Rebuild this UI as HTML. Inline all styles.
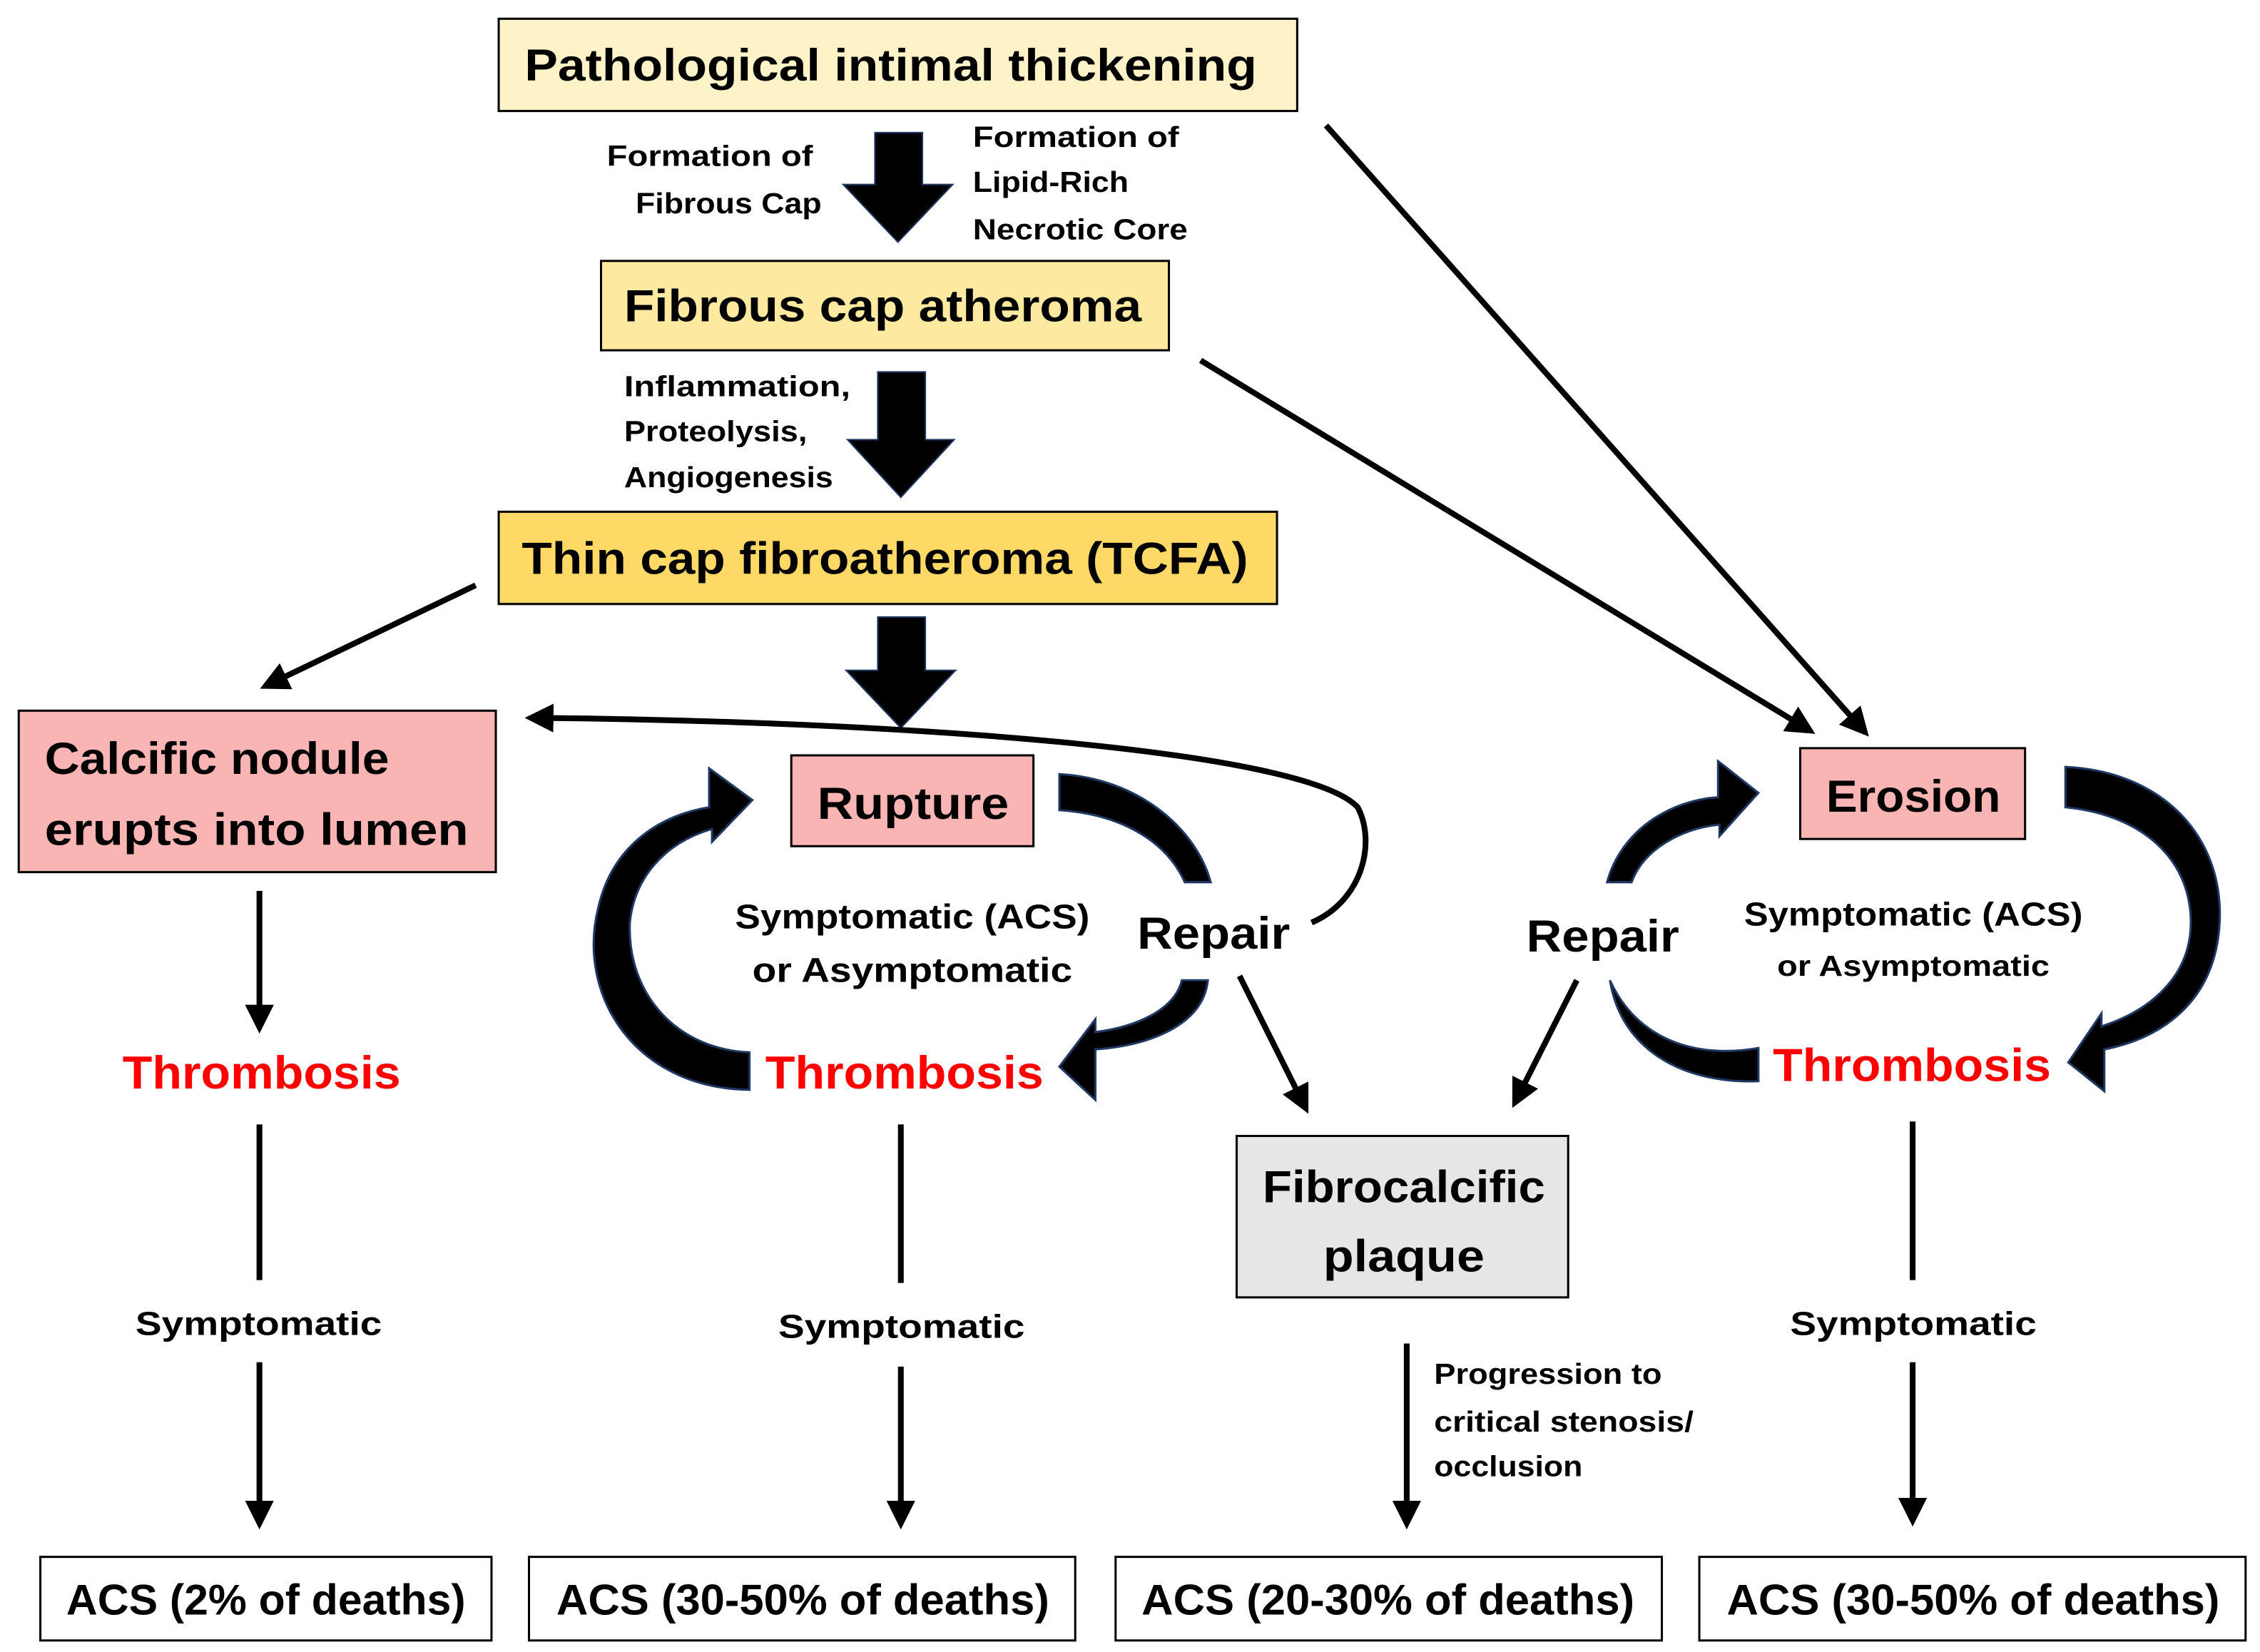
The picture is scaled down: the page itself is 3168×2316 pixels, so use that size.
<!DOCTYPE html>
<html><head><meta charset="utf-8"><style>html,body{margin:0;padding:0;background:#fff}svg{display:block}text{font-family:"Liberation Sans",sans-serif;font-weight:bold}</style></head>
<body>
<svg width="3168" height="2316" viewBox="0 0 1568 1146" preserveAspectRatio="none" xmlns="http://www.w3.org/2000/svg">
<defs>
<marker id="ah" viewBox="0 0 10 10" refX="8" refY="5" markerWidth="5" markerHeight="5" orient="auto-start-reverse" markerUnits="strokeWidth"><path d="M0,0 L10,5 L0,10 z" fill="#000"/></marker>
</defs>
<g stroke="#000" stroke-width="1.5">
<rect x="346" y="13" width="554" height="64" fill="#fdf2c8"/>
<rect x="417" y="181" width="394" height="62" fill="#fde9a0"/>
<rect x="346" y="355" width="540" height="64" fill="#ffd966"/>
<rect x="13" y="493" width="331" height="112" fill="#f9b4b4"/>
<rect x="549" y="524" width="168" height="63" fill="#f9b4b4"/>
<rect x="1249" y="519" width="156" height="63" fill="#f9b4b4"/>
<rect x="858" y="788" width="230" height="112" fill="#e6e6e6"/>
<rect x="28" y="1080" width="313" height="58" fill="#fff"/>
<rect x="367" y="1080" width="379" height="58" fill="#fff"/>
<rect x="774" y="1080" width="379" height="58" fill="#fff"/>
<rect x="1179" y="1080" width="379" height="58" fill="#fff"/>
</g>
<!-- block arrows -->
<g fill="#000" stroke="#1f3864" stroke-width="1">
<path d="M607,92 L640,92 L640,128 L661,128 L623,168 L585,128 L607,128 z"/>
<path d="M609,258 L642,258 L642,305 L662,305 L625,345 L588,305 L609,305 z"/>
<path d="M609,428 L642,428 L642,465 L663,465 L625,505 L587,465 L609,465 z"/>
</g>
<!-- thin arrows -->
<g stroke="#000" stroke-width="4" fill="none" marker-end="url(#ah)">
<line x1="920" y1="87" x2="1294" y2="508"/>
<line x1="833" y1="250" x2="1256" y2="507"/>
<line x1="330" y1="406" x2="184" y2="476"/>
<path d="M910,640 C945,625 955,585 942,560 C905,520 620,500 368,498"/>
<line x1="180" y1="618" x2="180" y2="713"/>
<line x1="180" y1="945" x2="180" y2="1057"/>
<line x1="625" y1="948" x2="625" y2="1057"/>
<line x1="1327" y1="945" x2="1327" y2="1055"/>
<line x1="976" y1="932" x2="976" y2="1057"/>
<line x1="860" y1="677" x2="906" y2="769"/>
<line x1="1094" y1="680" x2="1051" y2="765"/>
</g>
<g stroke="#000" stroke-width="4">
<line x1="180" y1="780" x2="180" y2="888"/>
<line x1="625" y1="780" x2="625" y2="890"/>
<line x1="1327" y1="778" x2="1327" y2="888"/>
</g>
<!-- curved block arrows -->
<g fill="#000" stroke="#1f3864" stroke-width="1.5">
<path d="M520,730 L520,756 C440,755 400,690 415,630 C425,585 460,565 492,560 L492,533 L522,555 L494,584 L494,575 C460,585 440,610 437,640 C435,690 470,728 520,730 z"/>
<path d="M735,537 C790,540 830,575 840,612 L822,612 C810,585 780,565 735,562 z"/>
<path d="M838,680 C835,710 800,725 760,728 L760,763 L735,740 L760,707 L760,716 C790,712 815,700 820,680 z"/>
<path d="M1115,612 C1125,575 1160,555 1192,553 L1192,528 L1220,550 L1193,580 L1193,572 C1165,575 1140,590 1132,612 z"/>
<path d="M1117,680 C1135,720 1175,735 1220,727 L1220,750 C1170,752 1125,730 1117,680 z"/>
<path d="M1433,532 C1500,535 1543,580 1540,640 C1537,695 1500,720 1460,728 L1460,757 L1435,737 L1458,703 L1458,712 C1495,700 1520,675 1520,640 C1520,595 1485,565 1433,560 z"/>
</g>
<!-- text -->
<g fill="#000">
<text x="364" y="56" font-size="31" textLength="508" lengthAdjust="spacingAndGlyphs">Pathological intimal thickening</text>
<text x="433" y="223" font-size="31" textLength="359" lengthAdjust="spacingAndGlyphs">Fibrous cap atheroma</text>
<text x="362" y="398" font-size="31" textLength="504" lengthAdjust="spacingAndGlyphs">Thin cap fibroatheroma (TCFA)</text>
<text x="31" y="537" font-size="31" textLength="239" lengthAdjust="spacingAndGlyphs">Calcific nodule</text>
<text x="31" y="586" font-size="31" textLength="294" lengthAdjust="spacingAndGlyphs">erupts into lumen</text>
<text x="567" y="568" font-size="31" textLength="133" lengthAdjust="spacingAndGlyphs">Rupture</text>
<text x="1267" y="563" font-size="31" textLength="121" lengthAdjust="spacingAndGlyphs">Erosion</text>
<text x="876" y="834" font-size="31" textLength="196" lengthAdjust="spacingAndGlyphs">Fibrocalcific</text>
<text x="918" y="882" font-size="31" textLength="112" lengthAdjust="spacingAndGlyphs">plaque</text>
<text x="46" y="1120" font-size="30" textLength="277" lengthAdjust="spacingAndGlyphs">ACS (2% of deaths)</text>
<text x="386" y="1120" font-size="30" textLength="342" lengthAdjust="spacingAndGlyphs">ACS (30-50% of deaths)</text>
<text x="792" y="1120" font-size="30" textLength="342" lengthAdjust="spacingAndGlyphs">ACS (20-30% of deaths)</text>
<text x="1198" y="1120" font-size="30" textLength="342" lengthAdjust="spacingAndGlyphs">ACS (30-50% of deaths)</text>
<text x="789" y="658" font-size="31" textLength="106" lengthAdjust="spacingAndGlyphs">Repair</text>
<text x="1059" y="660" font-size="31" textLength="106" lengthAdjust="spacingAndGlyphs">Repair</text>
<text x="510" y="644" font-size="24" textLength="246" lengthAdjust="spacingAndGlyphs">Symptomatic (ACS)</text>
<text x="522" y="681" font-size="24" textLength="222" lengthAdjust="spacingAndGlyphs">or Asymptomatic</text>
<text x="1210" y="642" font-size="23" textLength="235" lengthAdjust="spacingAndGlyphs">Symptomatic (ACS)</text>
<text x="1233" y="677" font-size="20" textLength="189" lengthAdjust="spacingAndGlyphs">or Asymptomatic</text>
<text x="94" y="926" font-size="23" textLength="171" lengthAdjust="spacingAndGlyphs">Symptomatic</text>
<text x="540" y="928" font-size="23" textLength="171" lengthAdjust="spacingAndGlyphs">Symptomatic</text>
<text x="1242" y="926" font-size="23" textLength="171" lengthAdjust="spacingAndGlyphs">Symptomatic</text>
<text x="421" y="115" font-size="20" textLength="143" lengthAdjust="spacingAndGlyphs">Formation of</text>
<text x="441" y="148" font-size="20" textLength="129" lengthAdjust="spacingAndGlyphs">Fibrous Cap</text>
<text x="675" y="102" font-size="20" textLength="143" lengthAdjust="spacingAndGlyphs">Formation of</text>
<text x="675" y="133" font-size="20" textLength="108" lengthAdjust="spacingAndGlyphs">Lipid-Rich</text>
<text x="675" y="166" font-size="20" textLength="149" lengthAdjust="spacingAndGlyphs">Necrotic Core</text>
<text x="433" y="275" font-size="20" textLength="157" lengthAdjust="spacingAndGlyphs">Inflammation,</text>
<text x="433" y="306" font-size="20" textLength="127" lengthAdjust="spacingAndGlyphs">Proteolysis,</text>
<text x="433" y="338" font-size="20" textLength="145" lengthAdjust="spacingAndGlyphs">Angiogenesis</text>
<text x="995" y="960" font-size="20" textLength="158" lengthAdjust="spacingAndGlyphs">Progression to</text>
<text x="995" y="993" font-size="20" textLength="180" lengthAdjust="spacingAndGlyphs">critical stenosis/</text>
<text x="995" y="1024" font-size="20" textLength="103" lengthAdjust="spacingAndGlyphs">occlusion</text>
</g>
<g fill="#ff0000">
<text x="85" y="755" font-size="32" textLength="193" lengthAdjust="spacingAndGlyphs">Thrombosis</text>
<text x="531" y="755" font-size="32" textLength="193" lengthAdjust="spacingAndGlyphs">Thrombosis</text>
<text x="1230" y="750" font-size="32" textLength="193" lengthAdjust="spacingAndGlyphs">Thrombosis</text>
</g>
</svg>
</body></html>
